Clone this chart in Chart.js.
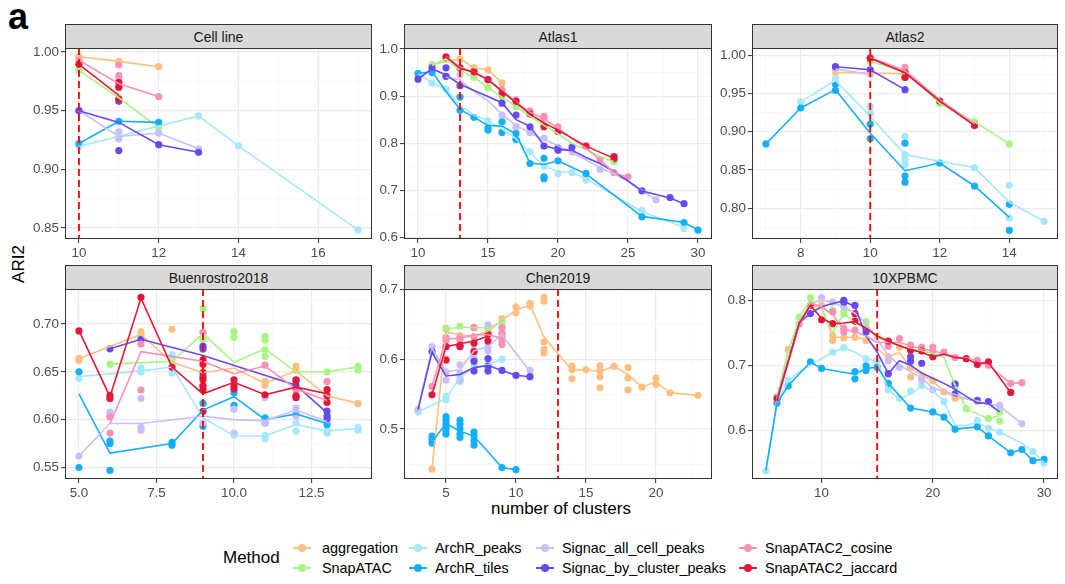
<!DOCTYPE html>
<html>
<head>
<meta charset="utf-8">
<script src="https://cdn.jsdelivr.net/npm/chart.js@4.4.1/dist/chart.umd.min.js"></script>
<style>
  body { margin: 0; background: #fff; width: 1065px; height: 584px; position: relative; overflow: hidden;
         font-family: "Liberation Sans", Arial, Helvetica, sans-serif; }
  .panel { position: absolute; }
  .strip { position: absolute; box-sizing: border-box; height: 25px; background: #D9D9D9; border: 1px solid #333;
           font-size: 14px; color: #1A1A1A; display: flex; align-items: center; justify-content: center; }
  .tag { position: absolute; left: 8px; top: -4px; font-size: 36px; font-weight: bold; color: #000; }
  .ytitle { position: absolute; left: 19px; top: 264px; font-size: 17px; color: #000;
            transform: translate(-50%, -50%) rotate(-90deg); white-space: nowrap; }
  .xtitle { position: absolute; left: 561px; top: 509px; font-size: 17px; color: #000;
            transform: translate(-50%, -50%); white-space: nowrap; }
  .legtitle { position: absolute; left: 223px; top: 558px; font-size: 17px; color: #000; transform: translateY(-50%); }
  .key { position: absolute; width: 18px; height: 10px; transform: translate(-50%, -50%); }
  .key .ln { position: absolute; left: 0; right: 0; top: 4px; height: 2px; }
  .key .dt { position: absolute; left: 5px; top: 1px; width: 8px; height: 8px; border-radius: 50%; }
  .lab { position: absolute; font-size: 14.4px; color: #000; transform: translateY(-50%); white-space: nowrap; }
</style>
</head>
<body>
<div class="tag">a</div>
<div class="ytitle">ARI2</div>
<div class="xtitle">number of clusters</div>
<div class="legtitle">Method</div>

<script>
// ---------- data ----------
const methods = ['aggregation', 'SnapATAC', 'ArchR_peaks', 'ArchR_tiles',
  'Signac_all_cell_peaks', 'Signac_by_cluster_peaks', 'SnapATAC2_cosine', 'SnapATAC2_jaccard'];
const methodColors = ['#FFBF80', '#A8F582', '#A5E8FC', '#14AFF8', '#C9BFFA', '#6549F5', '#F990B5', '#E2173A'];
const datasetNames = ['Cell line', 'Atlas1', 'Atlas2', 'Buenrostro2018', 'Chen2019', '10XPBMC'];
const selectedClusters = [10, 13, 10, 9, 13, 15];

// mean ARI per number of clusters (lines)
const cellLineMeans = {
  aggregation: [[10,.996],[11,.992],[12,.9875]],
  SnapATAC: [[10,.9845],[11,.961],[12,.9356]],
  ArchR_peaks: [[10,.9195],[13,.9455],[14,.920],[17,.8483]],
  ArchR_tiles: [[10,.922],[11,.941],[12,.940]],
  Signac_all_cell_peaks: [[10,.950],[11,.928],[12,.931],[13,.9175]],
  Signac_by_cluster_peaks: [[10,.950],[11,.940],[12,.921],[13,.9145]],
  SnapATAC2_cosine: [[10,.993],[11,.973],[12,.962]],
  SnapATAC2_jaccard: [[10,.9895],[11,.963]]
};
// individual runs (points)
const cellLinePoints = {
  aggregation: [[10,.996],[11,.992],[12,.9875]],
  SnapATAC: [[10,.9845],[12,.9356]],
  ArchR_peaks: [[10,.9195],[13,.9455],[14,.920],[17,.8483]],
  ArchR_tiles: [[10,.922],[11,.941],[12,.940]],
  Signac_all_cell_peaks: [[10,.950],[11,.932],[11,.926],[12,.931],[13,.9175]],
  Signac_by_cluster_peaks: [[10,.950],[11,.958],[11,.916],[12,.921],[13,.9145]],
  SnapATAC2_cosine: [[10,.993],[11,.989],[11,.980],[11,.976],[11,.970],[12,.962]],
  SnapATAC2_jaccard: [[10,.9895],[11,.974],[11,.970],[11,.960]]
};

const atlas1Means = {
  aggregation: [[11,.967],[13,.979],[14,.960],[15,.956],[16,.928]],
  SnapATAC: [[11,.965],[12,.979],[13,.955],[14,.940],[15,.918],[16,.898],[17,.878],[18,.857],[19,.838],[20,.820],[21,.800],[22,.786],[23,.772],[24,.761]],
  ArchR_peaks: [[10,.948],[11,.928],[12,.915],[13,.880],[14,.860],[15,.848],[16,.830],[17,.810],[18,.780],[19,.752],[20,.740],[21,.738],[22,.725],[26,.655],[29,.622]],
  ArchR_tiles: [[10,.948],[11,.952],[12,.910],[13,.872],[14,.855],[15,.838],[16,.836],[17,.820],[18,.758],[19,.755],[20,.763],[22,.735],[26,.645],[29,.632],[30,.616]],
  Signac_all_cell_peaks: [[12,.940],[13,.935],[14,.910],[15,.890],[16,.862],[17,.838],[18,.822],[19,.808],[20,.795],[21,.780],[22,.765],[23,.748],[24,.735],[25,.720],[26,.700],[27,.680]],
  Signac_by_cluster_peaks: [[10,.936],[11,.958],[12,.945],[13,.925],[14,.912],[15,.899],[16,.886],[17,.850],[18,.836],[19,.795],[20,.787],[21,.785],[22,.770],[23,.757],[24,.740],[25,.720],[26,.699],[28,.684],[29,.672]],
  SnapATAC2_cosine: [[12,.984],[13,.962],[14,.950],[15,.935],[16,.912],[17,.888],[18,.866],[19,.852],[20,.832],[21,.810],[22,.790],[23,.765],[24,.738],[25,.728]],
  SnapATAC2_jaccard: [[12,.983],[13,.959],[14,.950],[15,.935],[16,.910],[17,.886],[18,.862],[19,.843],[20,.828],[22,.794],[24,.768]]
};
const atlas1Points = {
  aggregation: [[11,.967],[13,.979],[14,.960],[15,.956],[16,.928]],
  SnapATAC: [[11,.965],[12,.979],[14,.940],[15,.918],[16,.899],[17,.878],[19,.838],[24,.761]],
  ArchR_peaks: [[10,.948],[11,.928],[12,.915],[15,.848],[16,.842],[17,.807],[18,.782],[19,.751],[20,.736],[21,.738],[22,.722],[26,.658],[29,.619]],
  ArchR_tiles: [[10,.948],[11,.950],[13,.898],[13,.870],[14,.855],[15,.832],[15,.828],[16,.846],[16,.823],[17,.821],[17,.808],[18,.757],[19,.768],[19,.729],[19,.725],[20,.763],[22,.736],[26,.644],[29,.632],[30,.616]],
  Signac_all_cell_peaks: [[12,.942],[13,.945],[16,.860],[17,.835],[18,.822],[19,.811],[21,.782],[23,.745],[27,.680]],
  Signac_by_cluster_peaks: [[10,.936],[11,.960],[12,.960],[12,.942],[13,.922],[16,.885],[17,.860],[18,.835],[19,.794],[20,.790],[20,.785],[21,.792],[26,.699],[28,.685],[29,.672]],
  SnapATAC2_cosine: [[12,.984],[14,.950],[15,.935],[16,.914],[17,.892],[18,.869],[19,.857],[19,.853],[20,.835],[22,.793],[23,.765],[24,.738],[25,.729]],
  SnapATAC2_jaccard: [[12,.983],[13,.960],[14,.952],[15,.935],[16,.905],[17,.889],[18,.862],[19,.835],[20,.825],[22,.794],[24,.772],[24,.767]]
};

const atlas2Means = {
  aggregation: [[9,.9775],[11,.976]],
  SnapATAC: [[10,.992],[11,.978],[12,.937],[13,.913],[14,.884]],
  ArchR_peaks: [[8,.939],[9,.967],[10,.920],[11,.870],[13,.853],[14,.808],[15,.783]],
  ArchR_tiles: [[7,.884],[8,.931],[9,.955],[10,.898],[11,.849],[12,.859],[13,.829],[14,.788]],
  Signac_all_cell_peaks: [[9,.982],[10,.975]],
  Signac_by_cluster_peaks: [[9,.985],[10,.981],[11,.955]],
  SnapATAC2_cosine: [[10,.997],[11,.980],[12,.942],[13,.910]],
  SnapATAC2_jaccard: [[10,.996],[11,.977],[12,.940],[13,.908]]
};
const atlas2Points = {
  aggregation: [[9,.9775],[11,.976]],
  SnapATAC: [[10,.992],[11,.978],[12,.937],[13,.913],[14,.884]],
  ArchR_peaks: [[8,.939],[9,.969],[10,.933],[10,.924],[11,.894],[11,.870],[11,.863],[11,.857],[13,.853],[14,.830],[14,.787],[15,.783]],
  ArchR_tiles: [[7,.884],[8,.931],[9,.962],[9,.954],[10,.910],[10,.891],[11,.885],[11,.842],[11,.834],[12,.859],[13,.829],[14,.805],[14,.771]],
  Signac_all_cell_peaks: [[9,.982],[10,.975]],
  Signac_by_cluster_peaks: [[9,.985],[10,.981],[11,.955]],
  SnapATAC2_cosine: [[10,.997],[11,.984],[11,.979],[11,.971],[13,.910]],
  SnapATAC2_jaccard: [[10,.996],[11,.977],[11,.971],[12,.940],[13,.908]]
};

const buenrostroMeans = {
  aggregation: [[5,.664],[7,.689],[8,.660],[9,.649],[10,.654],[11,.638],[12,.651],[13,.625],[14,.617]],
  SnapATAC: [[6,.658],[8,.661],[9,.690],[10,.660],[11,.674],[12,.650],[13,.650],[14,.655]],
  ArchR_peaks: [[5,.645],[7,.651],[8,.655],[9,.602],[10,.583],[11,.583],[12,.595],[13,.588],[14,.591]],
  ArchR_tiles: [[5,.627],[6,.565],[8,.575],[9,.610],[10,.624],[11,.600],[12,.606],[13,.596]],
  Signac_all_cell_peaks: [[5,.562],[6,.596],[7,.596],[9,.6035],[10,.600],[11,.599],[12,.610],[13,.598]],
  Signac_by_cluster_peaks: [[6,.674],[7,.684],[9,.667],[12,.636],[13,.607]],
  SnapATAC2_cosine: [[6,.596],[7,.671],[9,.661],[10,.648],[11,.656],[12,.632],[13,.620]],
  SnapATAC2_jaccard: [[5,.693],[6,.624],[7,.727],[8,.655],[9,.627],[10,.639],[11,.626],[12,.634],[13,.627]]
};
const buenrostroPoints = {
  aggregation: [[5,.664],[5,.662],[7,.692],[7,.688],[8,.6944],[9,.650],[11,.640],[11,.636],[12,.656],[12,.652],[13,.625],[14,.6167]],
  SnapATAC: [[6,.658],[8,.6625],[9,.716],[9,.684],[9,.673],[10,.692],[10,.686],[11,.687],[11,.683],[11,.673],[11,.666],[13,.650],[14,.6556],[14,.652]],
  ArchR_peaks: [[5,.643],[7,.654],[7,.650],[8,.668],[8,.649],[10,.5855],[10,.584],[11,.5835],[11,.580],[12,.5965],[12,.588],[13,.5885],[13,.586],[14,.592],[14,.589]],
  ArchR_tiles: [[5,.650],[5,.550],[6,.5775],[6,.575],[6,.547],[8,.5764],[8,.5733],[9,.617],[9,.593],[10,.628],[10,.615],[11,.602],[11,.5965],[12,.605],[13,.595]],
  Signac_all_cell_peaks: [[5,.562],[6,.608],[6,.604],[7,.622],[7,.592],[7,.589],[9,.5965],[10,.611],[10,.586],[11,.623],[11,.597],[12,.612],[12,.604],[13,.600]],
  Signac_by_cluster_peaks: [[6,.674],[7,.684],[9,.677],[9,.674],[9,.645],[12,.640],[13,.609],[13,.604],[13,.601]],
  SnapATAC2_cosine: [[6,.6028],[6,.586],[7,.679],[7,.631],[9,.691],[9,.636],[11,.657],[12,.631],[13,.640]],
  SnapATAC2_jaccard: [[5,.6927],[6,.6253],[6,.622],[7,.7278],[8,.6549],[9,.6625],[9,.658],[9,.649],[9,.642],[9,.635],[9,.631],[9,.6087],[10,.6417],[10,.635],[10,.632],[11,.626],[12,.6417],[12,.635],[12,.625],[12,.623],[13,.6313],[13,.625],[13,.618]]
};

const chenMeans = {
  aggregation: [[4,.4427],[5,.639],[6,.635],[7,.633],[8,.640],[9,.656],[10,.670],[11,.678],[12,.632],[14,.584],[15,.585],[16,.582],[17,.590],[18,.578],[19,.560],[20,.568],[21,.552],[23,.5483]],
  SnapATAC: [[5,.643],[6,.646],[7,.645],[8,.645],[9,.653]],
  ArchR_peaks: [[3,.5246],[5,.544],[6,.574],[7,.589],[8,.592],[9,.600]],
  ArchR_tiles: [[4,.482],[5,.508],[6,.497],[7,.490],[9,.445],[10,.442]],
  Signac_all_cell_peaks: [[3,.528],[4,.616],[5,.582],[6,.585],[7,.612],[8,.618],[9,.635],[11,.582]],
  Signac_by_cluster_peaks: [[3,.528],[4,.610],[5,.576],[6,.578],[7,.588],[8,.591],[9,.584],[10,.577],[11,.575]],
  SnapATAC2_cosine: [[4,.561],[5,.629],[6,.630],[7,.635],[8,.635],[9,.630]],
  SnapATAC2_jaccard: [[4,.549],[5,.618],[6,.622],[7,.626],[8,.633]]
};
const chenPoints = {
  aggregation: [[4,.4427],[5,.644],[8,.645],[9,.658],[10,.675],[10,.666],[11,.680],[11,.676],[12,.689],[12,.683],[12,.625],[12,.614],[12,.609],[14,.590],[14,.585],[14,.572],[15,.585],[16,.591],[16,.584],[16,.575],[16,.559],[17,.590],[18,.588],[18,.573],[18,.556],[19,.560],[20,.573],[20,.564],[21,.552],[23,.5483]],
  SnapATAC: [[5,.643],[6,.6474],[7,.645],[8,.644],[9,.6536]],
  ArchR_peaks: [[3,.5246],[5,.547],[5,.542],[6,.575],[6,.568],[7,.592],[7,.585],[8,.592],[8,.585],[9,.600]],
  ArchR_tiles: [[4,.4858],[4,.490],[4,.480],[5,.518],[5,.513],[5,.508],[5,.503],[5,.498],[5,.493],[6,.513],[6,.507],[6,.500],[6,.493],[6,.488],[7,.4957],[7,.490],[7,.483],[7,.477],[9,.445],[10,.442]],
  Signac_all_cell_peaks: [[3,.528],[4,.618],[5,.582],[5,.570],[6,.592],[6,.580],[6,.570],[7,.613],[7,.608],[7,.601],[8,.649],[8,.618],[8,.612],[9,.646],[9,.637],[11,.584]],
  Signac_by_cluster_peaks: [[4,.611],[7,.597],[7,.583],[8,.601],[8,.590],[8,.583],[9,.584],[10,.577],[11,.575]],
  SnapATAC2_cosine: [[4,.561],[5,.631],[5,.627],[6,.633],[6,.628],[7,.6455],[7,.632],[8,.635],[9,.645],[9,.637],[9,.631],[9,.626],[9,.621]],
  SnapATAC2_jaccard: [[4,.549],[5,.618],[5,.599],[6,.618],[6,.620],[7,.611],[7,.623],[8,.626],[8,.636]]
};

const pbmcMeans = {
  aggregation: [[6,.648],[7,.724],[8,.765],[9,.790],[10,.790],[11,.743],[12,.743],[13,.743],[14,.740],[15,.725],[16,.712],[17,.720],[18,.695],[19,.685],[20,.675],[21,.660],[22,.650],[23,.648],[24,.645]],
  SnapATAC: [[6,.652],[7,.720],[8,.774],[9,.800],[10,.787],[11,.750],[12,.780],[13,.765],[14,.760],[15,.743],[16,.736],[17,.730],[18,.726],[19,.722],[20,.718],[21,.712],[22,.669],[23,.633],[24,.625],[25,.618],[26,.622]],
  ArchR_peaks: [[5,.5374],[6,.645],[7,.675],[8,.690],[9,.700],[10,.710],[11,.720],[12,.727],[13,.720],[14,.710],[15,.707],[16,.662],[17,.648],[18,.655],[19,.668],[20,.660],[21,.645],[22,.607],[23,.607],[24,.612],[25,.603],[26,.597],[28,.580],[29,.567],[30,.550]],
  ArchR_tiles: [[5,.538],[6,.642],[7,.668],[9,.705],[10,.695],[13,.686],[14,.695],[15,.697],[16,.672],[18,.634],[20,.628],[21,.620],[22,.6015],[24,.605],[25,.591],[27,.565],[28,.570],[29,.553],[30,.555]],
  Signac_all_cell_peaks: [[6,.648],[8,.765],[9,.795],[10,.800],[11,.796],[12,.790],[13,.780],[14,.765],[15,.740],[16,.715],[17,.700],[18,.690],[19,.680],[20,.665],[21,.660],[22,.655],[23,.648],[24,.645],[25,.640],[26,.637],[28,.610]],
  Signac_by_cluster_peaks: [[6,.648],[8,.765],[9,.780],[10,.790],[11,.795],[12,.799],[13,.790],[14,.745],[15,.720],[16,.687],[17,.707],[18,.700],[19,.688],[20,.680],[21,.672],[22,.663],[23,.652],[24,.642],[25,.641],[26,.628]],
  SnapATAC2_cosine: [[6,.645],[8,.762],[9,.795],[10,.790],[11,.778],[12,.755],[13,.752],[14,.745],[15,.735],[16,.735],[17,.735],[18,.730],[19,.725],[20,.722],[21,.718],[22,.712],[23,.711],[24,.707],[25,.700],[27,.672],[28,.673]],
  SnapATAC2_jaccard: [[6,.645],[8,.765],[9,.792],[10,.772],[11,.764],[12,.765],[13,.767],[14,.757],[15,.745],[16,.737],[17,.730],[18,.724],[19,.720],[20,.713],[21,.717],[22,.712],[23,.710],[24,.702],[25,.704],[27,.658]]
};
const pbmcPoints = {
  aggregation: [[7,.724],[10,.792],[11,.746],[11,.738],[12,.742],[13,.743],[14,.738],[16,.713],[17,.728],[18,.697],[18,.682],[19,.681],[20,.676],[21,.659],[22,.649],[24,.644]],
  SnapATAC: [[6,.652],[8,.774],[9,.804],[11,.785],[12,.783],[12,.779],[14,.767],[15,.745],[22,.672],[22,.667],[23,.633],[25,.618],[26,.628],[26,.614]],
  ArchR_peaks: [[5,.5374],[6,.641],[7,.677],[11,.720],[12,.727],[14,.710],[15,.707],[16,.662],[17,.649],[18,.660],[19,.669],[21,.644],[24,.615],[25,.603],[26,.597],[29,.567],[30,.549]],
  ArchR_tiles: [[6,.642],[7,.668],[9,.705],[10,.695],[13,.690],[13,.679],[14,.699],[14,.692],[15,.697],[16,.672],[18,.634],[20,.628],[21,.620],[22,.6015],[24,.605],[25,.591],[27,.565],[28,.570],[29,.553],[30,.555]],
  Signac_all_cell_peaks: [[10,.804],[11,.797],[12,.790],[14,.758],[16,.707],[17,.697],[19,.677],[20,.662],[26,.638],[28,.610]],
  Signac_by_cluster_peaks: [[9,.7795],[12,.800],[12,.797],[13,.792],[14,.751],[16,.687],[18,.713],[18,.706],[19,.703],[22,.656],[22,.671],[24,.646],[25,.644]],
  SnapATAC2_cosine: [[6,.647],[8,.764],[11,.782],[12,.751],[12,.757],[13,.754],[16,.729],[17,.741],[18,.731],[19,.728],[20,.728],[20,.723],[21,.720],[22,.712],[24,.708],[25,.700],[27,.672],[28,.673]],
  SnapATAC2_jaccard: [[6,.649],[9,.792],[10,.770],[11,.764],[13,.7795],[13,.768],[16,.737],[18,.723],[19,.722],[20,.713],[23,.710],[24,.701],[25,.705],[27,.658]]
};

// ---------- layout ----------
const FONT = '"Liberation Sans", Arial, Helvetica, sans-serif';
const AXW = 50, AXH = 22, PADT = 10, PADR = 14;

// axis ranges: [min, max, major step, decimals]
const panels = [
  { left: 65,  top: 48,  w: 307, h: 191, x: [9.65, 17.35, 2, 0],   y: [0.8406, 1.0034, 0.05, 2], means: cellLineMeans,   points: cellLinePoints },
  { left: 404, top: 48,  w: 308, h: 191, x: [9, 31, 5, 0],         y: [0.597, 1.002, 0.1, 1],    means: atlas1Means,     points: atlas1Points },
  { left: 752, top: 48,  w: 306, h: 191, x: [6.6, 15.4, 2, 0],     y: [0.7597, 1.0094, 0.05, 2], means: atlas2Means,     points: atlas2Points },
  { left: 65,  top: 289, w: 307, h: 190, x: [4.55, 14.45, 2.5, 1], y: [0.538, 0.7365, 0.05, 2],  means: buenrostroMeans, points: buenrostroPoints },
  { left: 404, top: 289, w: 308, h: 190, x: [2, 24, 5, 0],         y: [0.4286, 0.7004, 0.1, 1],  means: chenMeans,       points: chenPoints },
  { left: 752, top: 289, w: 306, h: 190, x: [3.75, 31.25, 10, 0],  y: [0.5247, 0.8173, 0.1, 1],  means: pbmcMeans,       points: pbmcPoints }
];

// major ticks every step, minor grid half way between
function tickValues(min, max, step) {
  const half = step / 2, out = [];
  for (let k = Math.ceil(min / half - 1e-9); k <= Math.floor(max / half + 1e-9); k++) out.push(+(k * half).toFixed(6));
  return out;
}
function isMajor(v, step) {
  const r = v / step;
  return Math.abs(r - Math.round(r)) < 1e-6;
}

function axis(range, pos) {
  const [min, max, step, dec] = range;
  const maj = c => c.tick && isMajor(c.tick.value, step);
  return {
    type: 'linear', position: pos, min, max,
    afterBuildTicks: s => { s.ticks = tickValues(min, max, step).map(v => ({ value: v })); },
    afterFit: s => { if (pos === 'left') s.width = AXW; else s.height = AXH; },
    border: { display: false },
    grid: {
      color: c => maj(c) ? '#EBEBEB' : '#F5F5F5',
      lineWidth: c => maj(c) ? 1.2 : 0.6,
      tickColor: c => maj(c) ? '#333333' : 'rgba(0,0,0,0)',
      tickWidth: 1, tickLength: 4, drawTicks: true
    },
    ticks: {
      autoSkip: false, maxRotation: 0, padding: 2, color: '#4D4D4D',
      font: { family: FONT, size: 13.4 },
      callback: v => isMajor(v, step) ? v.toFixed(dec) : ''
    }
  };
}

// panel border and the dashed marker at the chosen cluster count
const panelDecor = {
  id: 'panelDecor',
  afterDatasetsDraw(chart, args, opts) {
    const { ctx, chartArea: a } = chart;
    const px = chart.scales.x.getPixelForValue(opts.cut);
    ctx.save();
    ctx.strokeStyle = '#FF0000'; ctx.lineWidth = 1.8; ctx.setLineDash([7, 4]);
    ctx.beginPath(); ctx.moveTo(px, a.top); ctx.lineTo(px, a.bottom); ctx.stroke();
    ctx.restore();
    ctx.save();
    ctx.strokeStyle = '#333333'; ctx.lineWidth = 1;
    ctx.strokeRect(a.left + 0.5, a.top + 0.5, a.right - a.left - 1, a.bottom - a.top - 1);
    ctx.restore();
  }
};

panels.forEach((p, pi) => {
  const cw = AXW + p.w + PADR, ch = PADT + p.h + AXH;
  const canvas = document.createElement('canvas');
  canvas.className = 'panel';
  canvas.width = cw; canvas.height = ch;
  canvas.style.left = (p.left - AXW) + 'px';
  canvas.style.top = (p.top - PADT) + 'px';
  canvas.style.width = cw + 'px'; canvas.style.height = ch + 'px';
  document.body.appendChild(canvas);

  const strip = document.createElement('div');
  strip.className = 'strip';
  strip.style.left = p.left + 'px';
  strip.style.top = (p.top - 24) + 'px';
  strip.style.width = p.w + 'px';
  strip.textContent = datasetNames[pi];
  document.body.appendChild(strip);

  const datasets = [];
  methods.forEach((m, i) => {
    datasets.push({
      label: m + ' runs',
      data: p.points[m].map(([x, y]) => ({ x, y })),
      showLine: false, pointRadius: 3.6, pointBorderWidth: 0,
      pointBackgroundColor: methodColors[i], borderColor: methodColors[i],
      order: 200 - i
    });
    datasets.push({
      label: m,
      data: p.means[m].map(([x, y]) => ({ x, y })),
      borderColor: methodColors[i], borderWidth: 1.6, pointRadius: 0,
      fill: false, tension: 0, order: 100 - i
    });
  });

  new Chart(canvas.getContext('2d'), {
    type: 'line',
    data: { datasets },
    options: {
      responsive: false, animation: false, devicePixelRatio: 1,
      layout: { padding: { left: 0, top: PADT, right: PADR, bottom: 0 } },
      plugins: { legend: { display: false }, tooltip: { enabled: false }, panelDecor: { cut: selectedClusters[pi] } },
      scales: { x: axis(p.x, 'bottom'), y: axis(p.y, 'left') }
    },
    plugins: [panelDecor]
  });
});

// ---------- legend ----------
const legendCols = [[302, 322], [418, 435], [545, 562], [748, 765]];
const legendRows = [548, 568];
methods.forEach((m, i) => {
  const col = legendCols[Math.floor(i / 2)], row = legendRows[i % 2];
  const key = document.createElement('div');
  key.className = 'key';
  key.style.left = col[0] + 'px'; key.style.top = row + 'px';
  key.innerHTML = `<div class="ln" style="background:${methodColors[i]}"></div><div class="dt" style="background:${methodColors[i]}"></div>`;
  document.body.appendChild(key);
  const lab = document.createElement('div');
  lab.className = 'lab';
  lab.style.left = col[1] + 'px'; lab.style.top = row + 'px';
  lab.textContent = m;
  document.body.appendChild(lab);
});
</script>
</body>
</html>
